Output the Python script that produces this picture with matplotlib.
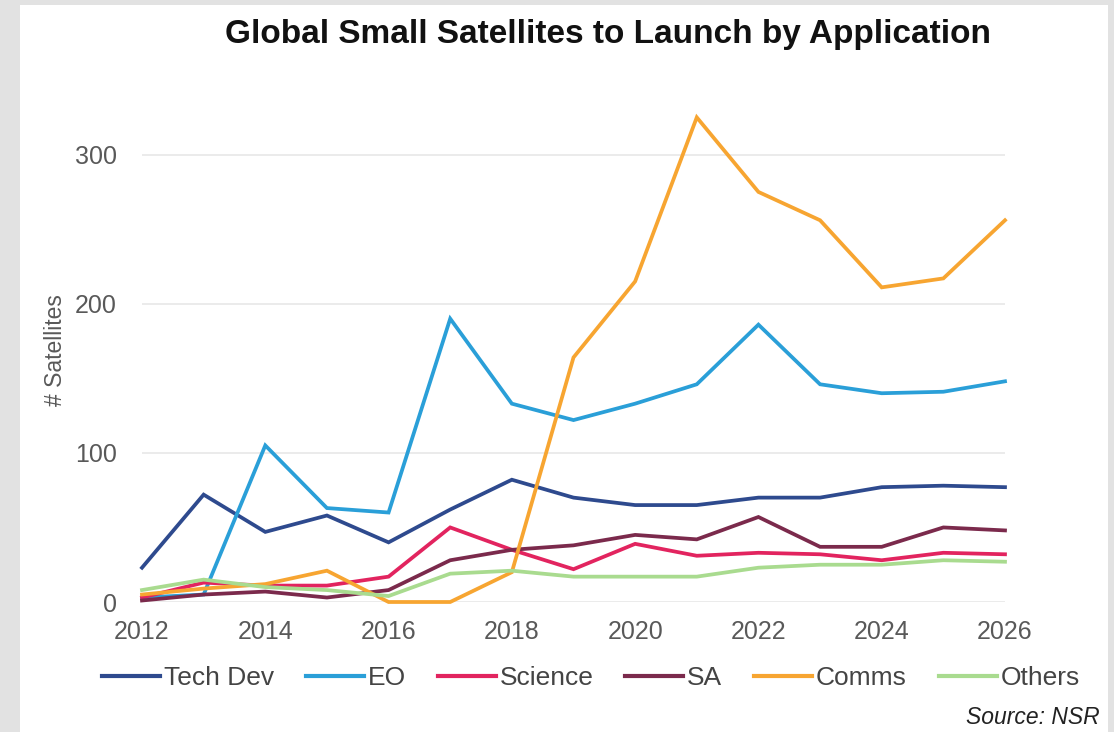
import numpy as np
import matplotlib.pyplot as plt
from matplotlib.patches import Rectangle

plt.rcParams['font.family'] = ['Liberation Sans', 'DejaVu Sans']

years = list(range(2012, 2027))
tech_dev = [23, 72, 47, 58, 40, 62, 82, 70, 65, 65, 70, 70, 77, 78, 77]
eo = [3, 5, 105, 63, 60, 190, 133, 122, 133, 146, 186, 146, 140, 141, 148]
science = [3, 13, 11, 11, 17, 50, 35, 22, 39, 31, 33, 32, 28, 33, 32]
sa = [1, 5, 7, 3, 8, 28, 35, 38, 45, 42, 57, 37, 37, 50, 48]
comms = [5, 9, 12, 21, 0, 0, 20, 164, 215, 325, 275, 256, 211, 217, 256]
others = [8, 15, 10, 8, 4, 19, 21, 17, 17, 17, 23, 25, 25, 28, 27]

series = ['Tech Dev', 'EO', 'Science', 'SA', 'Comms', 'Others']
colors = ['#2e4a8e', '#2a9fd8', '#e2245f', '#7b2a4c', '#f7a531', '#a9db8f']

W, H = 1114, 732
fig = plt.figure(figsize=(W / 100, H / 100), dpi=100, facecolor='#e2e2e2')
fig.patches.append(Rectangle((20 / W, 0), 1088 / W, 727 / H, transform=fig.transFigure,
                             facecolor='white', edgecolor='none', zorder=-5))

ax = fig.add_axes([142 / W, 130 / H, 863 / W, 507 / H])
ax.set_zorder(2)
ax.set_facecolor('none')

for name, vals, c in zip(series, [tech_dev, eo, science, sa, comms, others], colors):
    ax.plot(years, vals, color=c, lw=2.7, label=name, solid_joinstyle='miter', clip_on=False)

ax.set_xlim(2012, 2026)
ax.set_ylim(0, 340)
ax.set_yticks([0, 100, 200, 300])
ax.set_xticks(range(2012, 2027, 2))
for s in ax.spines.values():
    s.set_visible(False)
ax.grid(axis='y', color='#e8e8e8', lw=1.2)
ax.set_axisbelow(True)
ax.tick_params(length=0, labelsize=18, labelcolor='#595959')
ax.tick_params(axis='x', pad=13)
ax.tick_params(axis='y', pad=18)

fig.text(55 / W, 1 - 350 / H, '# Satellites', rotation=90, fontsize=16.5, color='#595959',
         ha='center', va='center')
fig.text(608 / W, 1 - 34 / H, 'Global Small Satellites to Launch by Application',
         fontsize=24, fontweight='bold', color='#111111', ha='center', va='center')
fig.text(1100 / W, 1 - 718 / H, 'Source: NSR', fontsize=16.5, style='italic',
         color='#222222', ha='right', va='center')

leg = fig.legend(loc='center', bbox_to_anchor=(591 / W, 1 - 678 / H), ncol=6, frameon=False,
                 fontsize=19, handlelength=2.2, handletextpad=0.15, columnspacing=1.2)
for t in leg.get_texts():
    t.set_color('#444444')
for l in leg.get_lines():
    l.set_linewidth(3)

fig.savefig('out.png', dpi=100, facecolor=fig.get_facecolor())
